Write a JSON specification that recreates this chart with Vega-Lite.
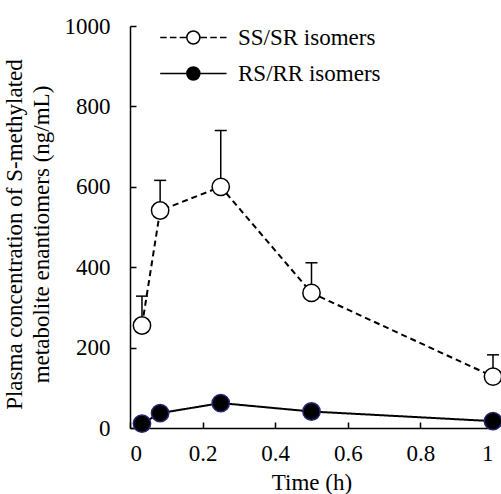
{
  "$schema": "https://vega.github.io/schema/vega-lite/v6.json",
  "width": 363,
  "height": 402,
  "autosize": "none",
  "padding": {"left": 130, "top": 26, "right": 8, "bottom": 66},
  "background": "white",
  "config": {
    "view": {"stroke": null},
    "font": "Liberation Serif",
    "axis": {
      "grid": false,
      "domainColor": "black",
      "domainWidth": 1.5,
      "tickColor": "black",
      "tickWidth": 1.5,
      "tickSize": -6,
      "labelFont": "Liberation Serif",
      "labelFontSize": 23,
      "labelColor": "black",
      "titleFont": "Liberation Serif",
      "titleFontSize": 23,
      "titleFontWeight": "normal",
      "titleColor": "black"
    },
    "legend": {
      "labelFont": "Liberation Serif",
      "labelFontSize": 23,
      "labelColor": "black"
    }
  },
  "data": {
    "values": [
      {"series": "SS/SR isomers", "time": 0.033, "value": 255, "err": 328},
      {"series": "SS/SR isomers", "time": 0.083, "value": 541, "err": 616},
      {"series": "SS/SR isomers", "time": 0.25, "value": 600, "err": 740},
      {"series": "SS/SR isomers", "time": 0.5, "value": 336, "err": 411},
      {"series": "SS/SR isomers", "time": 1, "value": 128, "err": 182},
      {"series": "RS/RR isomers", "time": 0.033, "value": 11},
      {"series": "RS/RR isomers", "time": 0.083, "value": 37},
      {"series": "RS/RR isomers", "time": 0.25, "value": 62},
      {"series": "RS/RR isomers", "time": 0.5, "value": 41},
      {"series": "RS/RR isomers", "time": 1, "value": 17}
    ]
  },
  "encoding": {
    "x": {
      "field": "time", "type": "quantitative",
      "scale": {"domain": [0, 1], "nice": false},
      "axis": {"values": [0, 0.2, 0.4, 0.6, 0.8, 1], "format": "~g", "labelPadding": 20, "title": "Time (h)", "titlePadding": 6}
    },
    "y": {
      "field": "value", "type": "quantitative",
      "scale": {"domain": [0, 1000], "nice": false},
      "axis": {
        "values": [0, 200, 400, 600, 800, 1000],
        "format": "d",
        "labelPadding": 26,
        "title": ["Plasma concentration of S-methylated", "metabolite enantiomers (ng/mL)"],
        "titleAngle": 270,
        "titleAlign": "center",
        "titleBaseline": "top",
        "titleLineHeight": 27,
        "titleX": -127,
        "titleY": 208
      }
    }
  },
  "layer": [
    {
      "transform": [{"filter": "isValid(datum.err)"}],
      "mark": {"type": "rule", "color": "black", "strokeWidth": 1.5},
      "encoding": {"y2": {"field": "err"}}
    },
    {
      "transform": [{"filter": "isValid(datum.err)"}],
      "mark": {"type": "tick", "orient": "horizontal", "color": "black", "size": 12, "thickness": 1.5, "opacity": 1},
      "encoding": {"y": {"field": "err", "type": "quantitative"}}
    },
    {
      "mark": {"type": "line", "color": "black", "strokeWidth": 2},
      "encoding": {
        "detail": {"field": "series", "type": "nominal"},
        "strokeDash": {
          "condition": {"test": "datum.series === 'SS/SR isomers'", "value": [6, 4]},
          "value": [1, 0]
        },
        "opacity": {
          "field": "series", "type": "nominal",
          "scale": {"domain": ["SS/SR isomers", "RS/RR isomers"], "range": [1, 1]},
          "legend": {
            "title": null,
            "orient": "none",
            "legendX": 85,
            "legendY": 0,
            "symbolSize": 169,
            "symbolStrokeWidth": 1.5,
            "symbolStrokeColor": "black",
            "symbolOpacity": 1,
            "labelOffset": 0,
            "labelLimit": 300,
            "rowPadding": 12,
            "encode": {
              "symbols": {
                "update": {
                  "shape": {"signal": "datum.value === 'SS/SR isomers' ? 'M-4.1,0A1,1 0 1,1 -6.1,0A1,1 0 1,1 -4.1,0ZM-10.2,0L-9.2,0M-8.7,0L-7.7,0M-7.2,0L-6.2,0M-4,0L-3,0M-2.5,0L-1.5,0M-1,0L0,0' : 'M-4.1,0A1,1 0 1,1 -6.1,0A1,1 0 1,1 -4.1,0ZM-10.2,0L-6.1,0M-4.1,0L0,0'"},
                  "fill": {"signal": "datum.value === 'SS/SR isomers' ? 'white' : 'black'"},
                  "stroke": {"value": "black"},
                  "strokeWidth": {"value": 1.5},
                  "opacity": {"value": 1}
                }
              }
            }
          }
        }
      }
    },
    {
      "mark": {"type": "point", "shape": "circle", "filled": true, "size": 300, "strokeWidth": 1.5, "opacity": 1},
      "encoding": {
        "fill": {
          "field": "series", "type": "nominal",
          "scale": {"domain": ["SS/SR isomers", "RS/RR isomers"], "range": ["white", "black"]},
          "legend": null
        },
        "stroke": {
          "condition": {"test": "datum.series === 'RS/RR isomers'", "value": "#262673"},
          "value": "black"
        }
      }
    }
  ]
}
